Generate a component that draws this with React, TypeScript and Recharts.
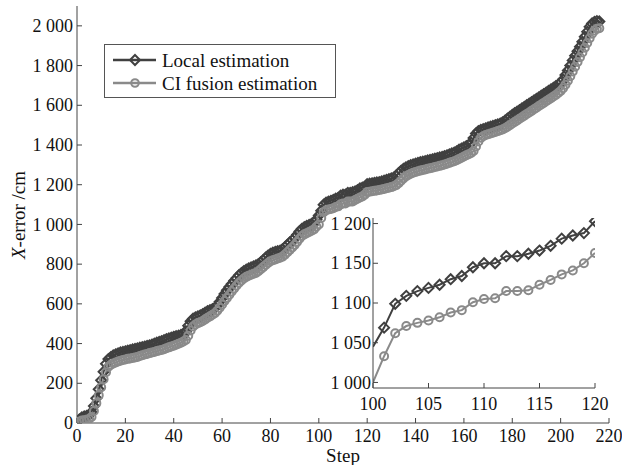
import React from 'react';
import { LineChart, Line, XAxis, YAxis, CartesianGrid } from 'recharts';

// steps 0..216 on the x axis
const STEPS = Array.from({ length: 217 }, (_, i) => i);

const LOCAL = [
    0, 18, 28, 33, 36, 40, 55, 85, 125, 170,
    215, 258, 298, 322, 332, 340, 346, 350, 355, 358,
    361, 364, 367, 370, 373, 376, 379, 382, 385, 388,
    391, 395, 399, 404, 408, 412, 417, 422, 426, 430,
    434, 437, 440, 443, 447, 462, 490, 512, 525, 532,
    537, 542, 548, 556, 563, 568, 573, 580, 592, 610,
    630, 650, 668, 685, 700, 716, 730, 744, 755, 765,
    772, 778, 783, 788, 793, 800, 810, 820, 832, 843,
    852, 858, 862, 865, 868, 875, 885, 897, 910, 920,
    932, 948, 965, 978, 986, 992, 997, 1002, 1010, 1025,
    1045, 1069, 1099, 1109, 1115, 1119, 1123, 1130, 1134, 1145,
    1150, 1150, 1159, 1159, 1162, 1166, 1172, 1181, 1185, 1188,
    1203, 1205, 1207, 1209, 1211, 1213, 1216, 1220, 1224, 1228,
    1232, 1236, 1245, 1258, 1270, 1280, 1287, 1293, 1298, 1302,
    1306, 1310, 1313, 1316, 1319, 1322, 1325, 1328, 1331, 1334,
    1337, 1340, 1344, 1348, 1352, 1357, 1362, 1368, 1376, 1382,
    1388, 1394, 1400, 1412, 1435, 1458, 1470, 1476, 1480, 1484,
    1488, 1492, 1496, 1500, 1504, 1508, 1514, 1522, 1532, 1542,
    1552, 1560, 1568, 1576, 1584, 1592, 1600, 1608, 1616, 1624,
    1632, 1640, 1648, 1656, 1664, 1672, 1680, 1688, 1696, 1704,
    1714, 1730, 1752, 1775, 1800, 1826, 1850, 1872, 1895, 1920,
    1945, 1970, 1995, 2012, 2020, 2024, 2022,
];

const CI = [
    0, 8, 12, 14, 16, 20, 30, 60, 100, 140,
    180, 220, 256, 283, 293, 300, 305, 310, 314, 317,
    320, 323, 325, 327, 330, 333, 337, 341, 345, 348,
    352, 355, 358, 362, 365, 368, 372, 377, 381, 385,
    389, 394, 399, 404, 410, 418, 440, 466, 486, 496,
    503, 508, 514, 522, 530, 537, 545, 553, 565, 580,
    597, 614, 630, 646, 662, 677, 692, 706, 718, 728,
    736, 742, 747, 752, 756, 764, 774, 785, 796, 806,
    815, 820, 824, 828, 832, 838, 848, 860, 872, 884,
    896, 912, 928, 942, 950, 956, 962, 968, 975, 988,
    1000, 1033, 1062, 1071, 1075, 1078, 1082, 1088, 1091, 1101,
    1105, 1106, 1115, 1115, 1116, 1123, 1129, 1136, 1141, 1150,
    1163, 1165, 1167, 1169, 1171, 1173, 1176, 1179, 1182, 1185,
    1188, 1192, 1198, 1208, 1220, 1232, 1242, 1249, 1255, 1260,
    1264, 1268, 1271, 1274, 1277, 1280, 1283, 1286, 1289, 1292,
    1295, 1298, 1302, 1306, 1310, 1314, 1318, 1323, 1330, 1336,
    1342, 1348, 1354, 1360, 1370, 1392, 1418, 1436, 1444, 1450,
    1454, 1458, 1462, 1466, 1470, 1474, 1478, 1484, 1492, 1500,
    1508, 1516, 1524, 1532, 1540, 1548, 1556, 1564, 1572, 1580,
    1588, 1596, 1604, 1612, 1620, 1628, 1636, 1644, 1652, 1662,
    1672, 1686, 1704, 1724, 1746, 1770, 1794, 1818, 1842, 1866,
    1890, 1914, 1938, 1960, 1976, 1985, 1988,
];

const X_TICKS = [0, 20, 40, 60, 80, 100, 120, 140, 160, 180, 200, 220];
const Y_TICKS = [0, 200, 400, 600, 800, 1000, 1200, 1400, 1600, 1800, 2000];
const INSET_X_TICKS = [100, 105, 110, 115, 120];
const INSET_Y_TICKS = [1000, 1050, 1100, 1150, 1200];

const SERIES_NAMES = ['Local estimation', 'CI fusion estimation'];

const DARK = '#404040';
const LIGHT = '#8a8a8a';
const AXIS = '#444';
const FONT = '"Liberation Serif", "Times New Roman", serif';

const data = STEPS.map((step, i) => ({ step, local: LOCAL[i], ci: CI[i] }));
const insetData = data.filter(d => d.step >= 100 && d.step <= 120);

// 1200 -> "1 200"
const fmt = (v: number) => (v >= 1000 ? `${Math.floor(v / 1000)} ${String(v % 1000).padStart(3, '0')}` : String(v));

// serif tick text, drawn by hand so the font sticks
const XTick = ({ x, y, payload }: any) => (
    <text x={x} y={y} dy="0.71em" textAnchor="middle" fontSize={18} fontFamily={FONT} fill="#111">
        {payload.value}
    </text>
);
const YTick = ({ x, y, payload }: any) => (
    <text x={x} y={y} dy="0.34em" textAnchor="end" fontSize={18} fontFamily={FONT} fill="#111">
        {fmt(payload.value)}
    </text>
);

const makeDiamond = (skipEdge: boolean) => (props: any) => {
    const { cx, cy, index, payload } = props;
    if (cx == null || cy == null || (skipEdge && payload.step === 100)) return <g key={`d-${index}`} />;
    const h = 5;
    return (
        <path key={`d-${index}`} d={`M${cx},${cy - h}L${cx + h},${cy}L${cx},${cy + h}L${cx - h},${cy}Z`}
            fill="none" stroke={DARK} strokeWidth={2} />
    );
};

const makeCircle = (skipEdge: boolean) => (props: any) => {
    const { cx, cy, index, payload } = props;
    if (cx == null || cy == null || (skipEdge && payload.step === 100)) return <g key={`c-${index}`} />;
    return <circle key={`c-${index}`} cx={cx} cy={cy} r={4} fill="none" stroke={LIGHT} strokeWidth={2} />;
};

const Axes = ({ xDomain, yDomain, xTicks, yTicks, yWidth, xHeight, xMargin, yMargin }: any) => [
    <XAxis key="xb" xAxisId="b" dataKey="step" type="number" domain={xDomain} ticks={xTicks} interval={0}
        allowDataOverflow height={xHeight} tickSize={-5} tickMargin={xMargin} tick={<XTick />}
        stroke={AXIS} tickLine={{ stroke: AXIS }} />,
    <XAxis key="xt" xAxisId="t" orientation="top" dataKey="step" type="number" domain={xDomain} ticks={xTicks}
        interval={0} allowDataOverflow height={0} tickSize={-5} tick={false} stroke={AXIS} />,
    <YAxis key="yl" yAxisId="l" type="number" domain={yDomain} ticks={yTicks} interval={0} allowDataOverflow
        width={yWidth} tickSize={-5} tickMargin={yMargin} tick={<YTick />}
        stroke={AXIS} tickLine={{ stroke: AXIS }} />,
    <YAxis key="yr" yAxisId="r" orientation="right" type="number" domain={yDomain} ticks={yTicks} interval={0}
        allowDataOverflow width={0} tickSize={-5} tick={false} stroke={AXIS} />,
];

const LegendRow = ({ y, kind, label }: { y: number; kind: 'diamond' | 'circle'; label: string }) => (
    <g>
        <line x1={113} x2={156} y1={y} y2={y} stroke={kind === 'diamond' ? DARK : LIGHT} strokeWidth={2.5} />
        {kind === 'diamond'
            ? <path d={`M135,${y - 5}L140,${y}L135,${y + 5}L130,${y}Z`} fill="none" stroke={DARK} strokeWidth={2} />
            : <circle cx={135} cy={y} r={3.8} fill="none" stroke={LIGHT} strokeWidth={2} />}
        <text x={162} y={y} dominantBaseline="central" fontSize={19} fontFamily={FONT} fill="#111">{label}</text>
    </g>
);

export default function App() {
    return (
        <div style={{ position: 'absolute', left: 0, top: 0, width: 622, height: 465, background: '#fff', fontFamily: FONT }}>
            {/* main chart */}
            <div style={{ position: 'absolute', left: 0, top: 0 }}>
                <LineChart width={622} height={465} data={data} margin={{ top: 6, right: 13, left: 0, bottom: 0 }}>
                    {Axes({
                        xDomain: [0, 220], yDomain: [0, 2100], xTicks: X_TICKS, yTicks: Y_TICKS,
                        yWidth: 77, xHeight: 42, xMargin: 11, yMargin: 9,
                    })}
                    <Line xAxisId="b" yAxisId="l" dataKey="local" stroke={DARK} strokeWidth={2}
                        dot={makeDiamond(false)} isAnimationActive={false} />
                    <Line xAxisId="b" yAxisId="l" dataKey="ci" stroke={LIGHT} strokeWidth={2}
                        dot={makeCircle(false)} isAnimationActive={false} />
                </LineChart>
            </div>

            {/* zoomed inset, steps 100-120 */}
            <div style={{ position: 'absolute', left: 300, top: 210 }}>
                <LineChart width={322} height={210} data={insetData} margin={{ top: 8, right: 27, left: 0, bottom: 0 }}>
                    <CartesianGrid xAxisId="b" yAxisId="l" horizontal={false} vertical={false} fill="#fff" fillOpacity={1} />
                    {Axes({
                        xDomain: [100, 120], yDomain: [993, 1207], xTicks: INSET_X_TICKS, yTicks: INSET_Y_TICKS,
                        yWidth: 73, xHeight: 32, xMargin: 14, yMargin: 7,
                    })}
                    <Line xAxisId="b" yAxisId="l" dataKey="local" stroke={DARK} strokeWidth={2}
                        dot={makeDiamond(true)} isAnimationActive={false} />
                    <Line xAxisId="b" yAxisId="l" dataKey="ci" stroke={LIGHT} strokeWidth={2}
                        dot={makeCircle(true)} isAnimationActive={false} />
                </LineChart>
            </div>

            {/* axis titles and legend */}
            <svg width={622} height={465} style={{ position: 'absolute', left: 0, top: 0, pointerEvents: 'none' }}>
                <text transform="translate(18,215) rotate(-90)" textAnchor="middle" dominantBaseline="central"
                    fontSize={19} fontFamily={FONT} fill="#111">
                    <tspan fontStyle="italic">X</tspan>-error /cm
                </text>
                <text x={343} y={462} textAnchor="middle" fontSize={19} fontFamily={FONT} fill="#111">Step</text>
                <rect x={104.5} y={44.5} width={231} height={53} fill="#fff" stroke="#555" strokeWidth={1} />
                <LegendRow y={60} kind="diamond" label={SERIES_NAMES[0]} />
                <LegendRow y={83} kind="circle" label={SERIES_NAMES[1]} />
            </svg>
        </div>
    );
}
